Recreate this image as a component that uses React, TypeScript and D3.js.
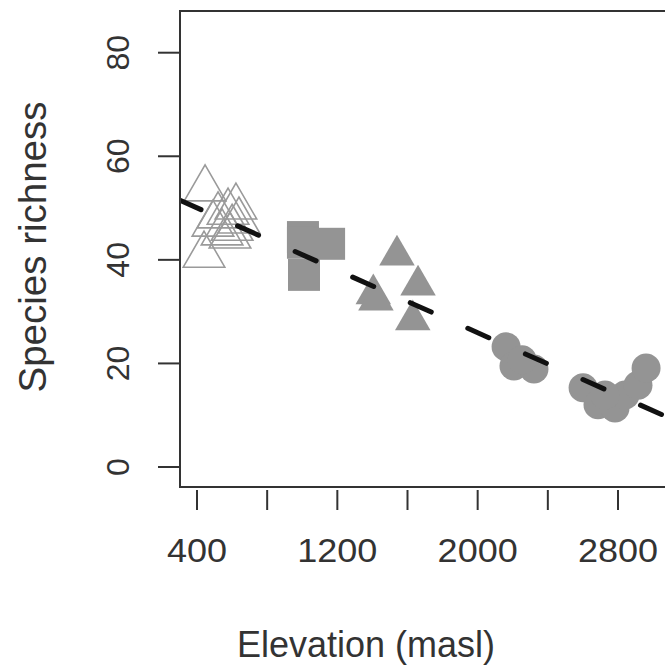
import React from "react";
import * as d3 from "d3";

// ---- data ----
const lowElev = [446, 440, 639, 577, 520, 600, 543, 588, 491, 622];
const lowRich = [53.7, 40.9, 47.5, 49.2, 48.5, 46.1, 45.2, 44.6, 46.9, 50.2];

const sqElev = [1004, 1004, 1153, 1010];
const sqRich = [44.4, 43.3, 43.1, 37.1];

const triElev = [1540, 1405, 1420, 1660, 1630];
const triRich = [40.9, 33.4, 32.2, 35.1, 28.4];

const circElev = [2162, 2207, 2321, 2253, 2601, 2686, 2783, 2840, 2914, 2960, 2726];
const circRich = [23.2, 19.5, 18.9, 20.7, 15.3, 12.0, 11.4, 13.9, 15.8, 19.1, 13.9];

const xTicks = [400, 800, 1200, 1600, 2000, 2400, 2800];
const xTickLabels = [400, 1200, 2000, 2800];
const yTicks = [0, 20, 40, 60, 80];

const fitIntercept = 56.07;
const fitSlope = -0.01507;

const W = 665;
const H = 670;

export default function App() {
  const x = d3.scaleLinear().domain([400, 2800]).range([197, 618]);
  const y = d3.scaleLinear().domain([0, 80]).range([467, 52.7]);

  const boxL = 180, boxT = 11, boxB = 487, boxR = 720;
  const xMin = x.invert(boxL);
  const xMax = x.invert(boxR);

  const gray = "#949494";
  const openStroke = "#9a9a9a";

  const tri = (r: number) => {
    const xc = r * (1.347 / 1.555);
    const yc = r / 2;
    return `M0,${-r}L${xc},${yc}L${-xc},${yc}Z`;
  };

  const line = d3
    .line<number>()
    .x((e) => x(e))
    .y((e) => y(fitIntercept + fitSlope * e));

  const font = "Liberation Sans, Arial, Helvetica, sans-serif";

  return (
    <svg
      width={W}
      height={H}
      style={{ position: "absolute", left: 0, top: 0, background: "#fff" }}
      fontFamily={font}
    >
      <defs>
        <clipPath id="plotClip">
          <rect x={boxL} y={boxT} width={boxR - boxL} height={boxB - boxT} />
        </clipPath>
      </defs>
      <rect x={0} y={0} width={W} height={H} fill="#fff" />

      <g clipPath="url(#plotClip)">
        {lowElev.map((e, i) => (
          <path
            key={"o" + i}
            d={tri(24)}
            transform={`translate(${x(e)},${y(lowRich[i])})`}
            fill="none"
            stroke={openStroke}
            strokeWidth={1.6}
          />
        ))}
        {sqElev.map((e, i) => (
          <rect
            key={"s" + i}
            x={x(e) - 16}
            y={y(sqRich[i]) - 16}
            width={32}
            height={32}
            fill={gray}
          />
        ))}
        {triElev.map((e, i) => (
          <path
            key={"t" + i}
            d={tri(20.5)}
            transform={`translate(${x(e)},${y(triRich[i])})`}
            fill={gray}
          />
        ))}
        {circElev.map((e, i) => (
          <circle key={"c" + i} cx={x(e)} cy={y(circRich[i])} r={14.5} fill={gray} />
        ))}
        <path
          d={line([xMin, xMax]) || ""}
          fill="none"
          stroke="#111"
          strokeWidth={5}
          strokeDasharray="23 40"
          strokeLinecap="round"
        />
      </g>

      {/* box */}
      <path
        d={`M${boxR},${boxT}H${boxL}V${boxB}H${boxR}`}
        fill="none"
        stroke="#333"
        strokeWidth={2}
      />

      {/* y axis */}
      {yTicks.map((t) => (
        <g key={"yt" + t}>
          <line x1={158} x2={boxL} y1={y(t)} y2={y(t)} stroke="#333" strokeWidth={2} />
          <text
            transform={`translate(129,${y(t)}) rotate(-90)`}
            textAnchor="middle"
            fontSize={32}
            fill="#333"
          >
            {t}
          </text>
        </g>
      ))}

      {/* x axis */}
      {xTicks.map((t) => (
        <line key={"xt" + t} x1={x(t)} x2={x(t)} y1={490} y2={510} stroke="#333" strokeWidth={2} />
      ))}
      {xTickLabels.map((t) => (
        <text
          key={"xl" + t}
          transform={`translate(${x(t)},562) scale(1.06,1)`}
          textAnchor="middle"
          fontSize={34}
          fill="#333"
        >
          {t}
        </text>
      ))}

      <text x={366} y={657} textAnchor="middle" fontSize={36} fill="#333">
        Elevation (masl)
      </text>
      <text
        transform={`translate(46,247) rotate(-90)`}
        textAnchor="middle"
        fontSize={38.5}
        fill="#333"
      >
        Species richness
      </text>
    </svg>
  );
}
